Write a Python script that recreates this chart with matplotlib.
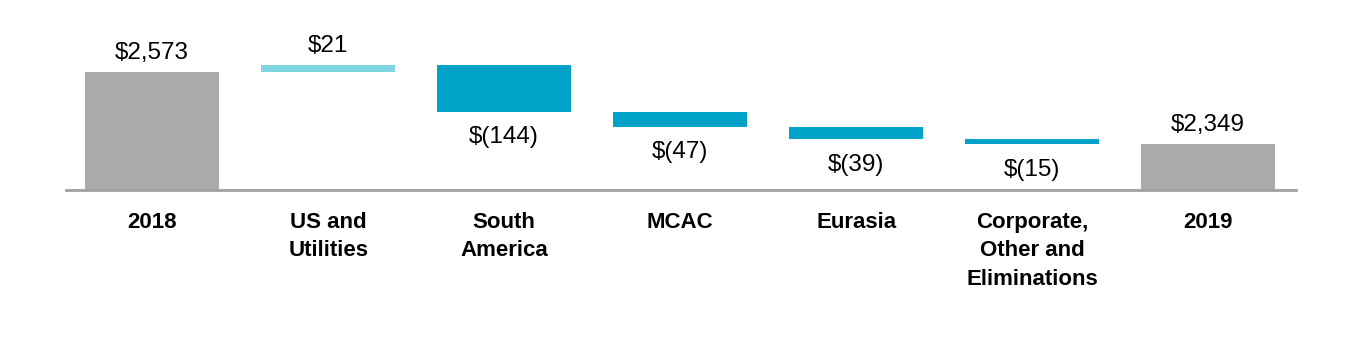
import matplotlib.pyplot as plt
import matplotlib
matplotlib.rc("font", family=["Liberation Sans", "DejaVu Sans"])

categories = ['2018', 'US and\nUtilities', 'South\nAmerica', 'MCAC', 'Eurasia',
              'Corporate,\nOther and\nEliminations', '2019']
values = [2573, 21, -144, -47, -39, -15, 2349]
labels = ['$2,573', '$21', '$(144)', '$(47)', '$(39)', '$(15)', '$2,349']

grey = '#ABABAB'
up_color = '#7FD6E3'
down_color = '#00A3C7'

fig = plt.figure(figsize=(13.6, 3.5), dpi=100)
ax = fig.add_axes([66 / 1360, 1 - 190 / 350, (1296 - 66) / 1360, 190 / 350])

base = 2206
running = 0
for i, v in enumerate(values):
    if i == 0 or i == len(values) - 1:
        # totals
        ax.bar(i, v - base, bottom=base, width=0.76, color=grey)
        ax.annotate(labels[i], (i, v), xytext=(0, 6), textcoords='offset points',
                    ha='center', va='bottom', fontsize=17.5)
        running = v
    else:
        start = running
        running = running + v
        color = up_color if v > 0 else down_color
        ax.bar(i, v, bottom=start, width=0.76, color=color)
        if v > 0:
            ax.annotate(labels[i], (i, running), xytext=(0, 6), textcoords='offset points',
                        ha='center', va='bottom', fontsize=17.5)
        else:
            ax.annotate(labels[i], (i, running), xytext=(0, -10.5), textcoords='offset points',
                        ha='center', va='top', fontsize=17.5)

ax.set_ylim(base, base + 190 / 0.3214)
ax.set_xlim(-0.49, 6.5)
ax.set_xticks(range(len(categories)))
ax.set_xticklabels(categories, fontsize=16, fontweight='bold', linespacing=1.45, va='top')
ax.tick_params(axis='x', length=0, pad=16)
ax.set_yticks([])
for s in ['top', 'right', 'left']:
    ax.spines[s].set_visible(False)
ax.spines['bottom'].set_color('#A0A0A0')
ax.spines['bottom'].set_linewidth(2)

plt.savefig('out.png', dpi=100)
